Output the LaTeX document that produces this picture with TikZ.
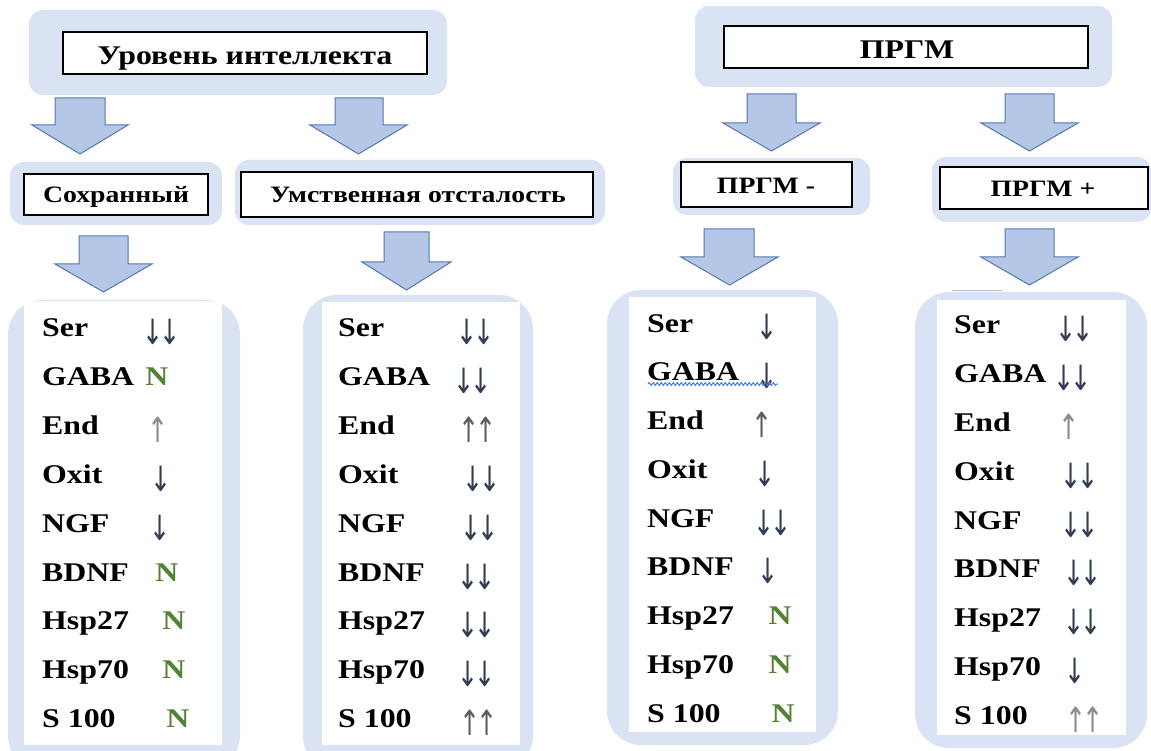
\documentclass[tikz,border=0pt]{standalone}
\usepackage{fontspec}
\setmainfont{Liberation Serif}[FakeStretch=1.18]
\newfontfamily\arrfont{DejaVu Sans}
\usetikzlibrary{decorations.pathmorphing}
\definecolor{bgblue}{HTML}{DAE3F3}
\definecolor{arrfill}{HTML}{B4C7E7}
\definecolor{arrdraw}{HTML}{5676B0}
\definecolor{okgreen}{HTML}{538135}
\definecolor{darkarr}{HTML}{323E4F}
\definecolor{midarr}{HTML}{5A5F66}
\definecolor{grayarr}{HTML}{8C8C8C}
\definecolor{wavyblue}{HTML}{4A7FE0}
\definecolor{faintline}{HTML}{AFC2E2}
\newcommand{\tallarr}[2]{\textcolor{#1}{\raisebox{-8pt}{\scalebox{1.05}[1.45]{\arrfont\mdseries\fontsize{24}{26}\selectfont #2}}}}
\newcommand{\dd}{\tallarr{darkarr}{↓\kern-4pt↓}}
\newcommand{\dn}{\tallarr{darkarr}{↓}}
\newcommand{\upg}{\tallarr{grayarr}{↑}}
\newcommand{\upm}{\tallarr{midarr}{↑}}
\newcommand{\uum}{\tallarr{midarr}{↑\kern-4pt↑}}
\newcommand{\uug}{\tallarr{grayarr}{↑\kern-4pt↑}}
\newcommand{\NN}{\textcolor{okgreen}{N}}
\newcommand{\barrow}[7]{%
  \draw[blockarrow] (#1,#3) -- (#2,#3) -- (#2,#4) -- (#6,#4) -- ({(#5+#6)/2},#7) -- (#5,#4) -- (#1,#4) -- cycle;}
\begin{document}
\begin{tikzpicture}[x=1pt,y=-1pt,
  groupbg/.style={fill=bgblue, draw=none, rounded corners=14pt},
  listbg/.style={fill=bgblue, draw=none, rounded corners=34pt},
  whitepanel/.style={fill=white, draw=none},
  headbox/.style={fill=white, draw=black, line width=1.3pt},
  blockarrow/.style={fill=arrfill, draw=arrdraw, line width=1pt, line join=miter},
  titletext/.style={font=\bfseries\fontsize{27}{30}\selectfont, anchor=base, inner sep=0pt},
  subtext/.style={font=\bfseries\fontsize{23.5}{26}\selectfont, anchor=base, inner sep=0pt},
  lbl/.style={font=\bfseries\fontsize{27}{30}\selectfont, anchor=base west, inner sep=0pt},
  val/.style={font=\bfseries\fontsize{27}{30}\selectfont, anchor=base, inner sep=0pt},
  wavy/.style={draw=wavyblue, line width=1pt, decorate, decoration={snake, amplitude=1.4pt, segment length=4pt}}
]
\useasboundingbox (0,0) rectangle (1151,751);
\fill[white] (0,0) rectangle (1151,751);

% ---------- top groups ----------
\fill[groupbg] (29,10) rectangle (447,95);
\draw[headbox] (63,32) rectangle (427,74);
\node[titletext] (t1) at (245,65) {Уровень интеллекта};

\fill[groupbg] (695,6) rectangle (1112,87);
\draw[headbox] (724,26) rectangle (1088,68);
\node[titletext] (t2) at (907,59) {ПРГМ};

% ---------- top block arrows ----------
\barrow{55}{105}{98}{125}{32}{128}{154}
\barrow{335}{383}{98}{125}{310}{407}{154}
\barrow{747}{796}{94}{123}{723}{820}{151}
\barrow{1005}{1054}{94}{123}{981}{1078}{151}

% ---------- second level ----------
\fill[groupbg] (10,162) rectangle (222,225);
\draw[headbox] (24,174) rectangle (208,215);
\node[subtext] (s1) at (116,203) {Сохранный};

\fill[groupbg] (235,160) rectangle (605,225);
\draw[headbox] (241,172) rectangle (593,217);
\node[subtext] (s2) at (418,203) {Умственная отсталость};

\fill[groupbg] (673,158) rectangle (870,215);
\draw[headbox] (681,162) rectangle (852,207);
\node[subtext] (s3) at (766,194) {ПРГМ -};

\fill[groupbg] (932,157) rectangle (1151,222);
\draw[headbox] (940,167) rectangle (1148,209);
\node[subtext] (s4) at (1043,197) {ПРГМ +};

% ---------- second block arrows ----------
\barrow{79}{128}{236}{264}{55}{152}{292}
\barrow{384}{429}{232}{262}{362}{451}{290}
\barrow{704}{754}{229}{257}{681}{778}{285}
\barrow{1005}{1054}{229}{257}{981}{1078}{285}

% ---------- list panels ----------
\fill[listbg] (8,300) rectangle (240,770);
\fill[whitepanel] (24,301) rectangle (222,745);
\fill[listbg] (303,295) rectangle (533,770);
\fill[whitepanel] (322,302) rectangle (520,745);
\fill[listbg] (607,290) rectangle (838,745);
\fill[whitepanel] (629,297) rectangle (816,732);
\fill[listbg] (915,292) rectangle (1147,748);
\fill[whitepanel] (937,300) rectangle (1126,735);
\draw[faintline, line width=1pt] (952,291) -- (1002,291);

% ---------- list 1 ----------
\foreach \lab/\vx/\val [count=\i] in {Ser/162/\dd, GABA/157/\NN, End/158/\upg, Oxit/161/\dn, NGF/160/\dn, BDNF/167/\NN, Hsp27/174/\NN, Hsp70/174/\NN, S 100/178/\NN}{
  \pgfmathsetmacro{\yy}{328+48.8*(\i-1)+9}
  \node[lbl] (A-\i) at (42,\yy) {\lab};
  \node[val] (AV-\i) at (\vx,\yy) {\val};
}
% ---------- list 2 ----------
\foreach \lab/\vx/\val [count=\i] in {Ser/476/\dd, GABA/473/\dd, End/478/\uum, Oxit/482/\dd, NGF/480/\dd, BDNF/477/\dd, Hsp27/477/\dd, Hsp70/477/\dd, S 100/479/\uum}{
  \pgfmathsetmacro{\yy}{328+48.8*(\i-1)+9}
  \node[lbl] (B-\i) at (338,\yy) {\lab};
  \node[val] (BV-\i) at (\vx,\yy) {\val};
}
% ---------- list 3 ----------
\foreach \lab/\vx/\val [count=\i] in {Ser/767/\dn, GABA/767/\dn, End/762/\upm, Oxit/765/\dn, NGF/773/\dd, BDNF/768/\dn, Hsp27/780/\NN, Hsp70/780/\NN, S 100/783/\NN}{
  \pgfmathsetmacro{\yy}{323+48.75*(\i-1)+9}
  \node[lbl] (C-\i) at (647,\yy) {\lab};
  \node[val] (CV-\i) at (\vx,\yy) {\val};
}
\draw[wavy] (648,384) -- (778,384);
% ---------- list 4 ----------
\foreach \lab/\vx/\val [count=\i] in {Ser/1075/\dd, GABA/1073/\dd, End/1069/\upg, Oxit/1080/\dd, NGF/1080/\dd, BDNF/1083/\dd, Hsp27/1083/\dd, Hsp70/1075/\dn, S 100/1085/\uug}{
  \pgfmathsetmacro{\yy}{325+48.75*(\i-1)+9}
  \node[lbl] (D-\i) at (954,\yy) {\lab};
  \node[val] (DV-\i) at (\vx,\yy) {\val};
}
\end{tikzpicture}
\end{document}
